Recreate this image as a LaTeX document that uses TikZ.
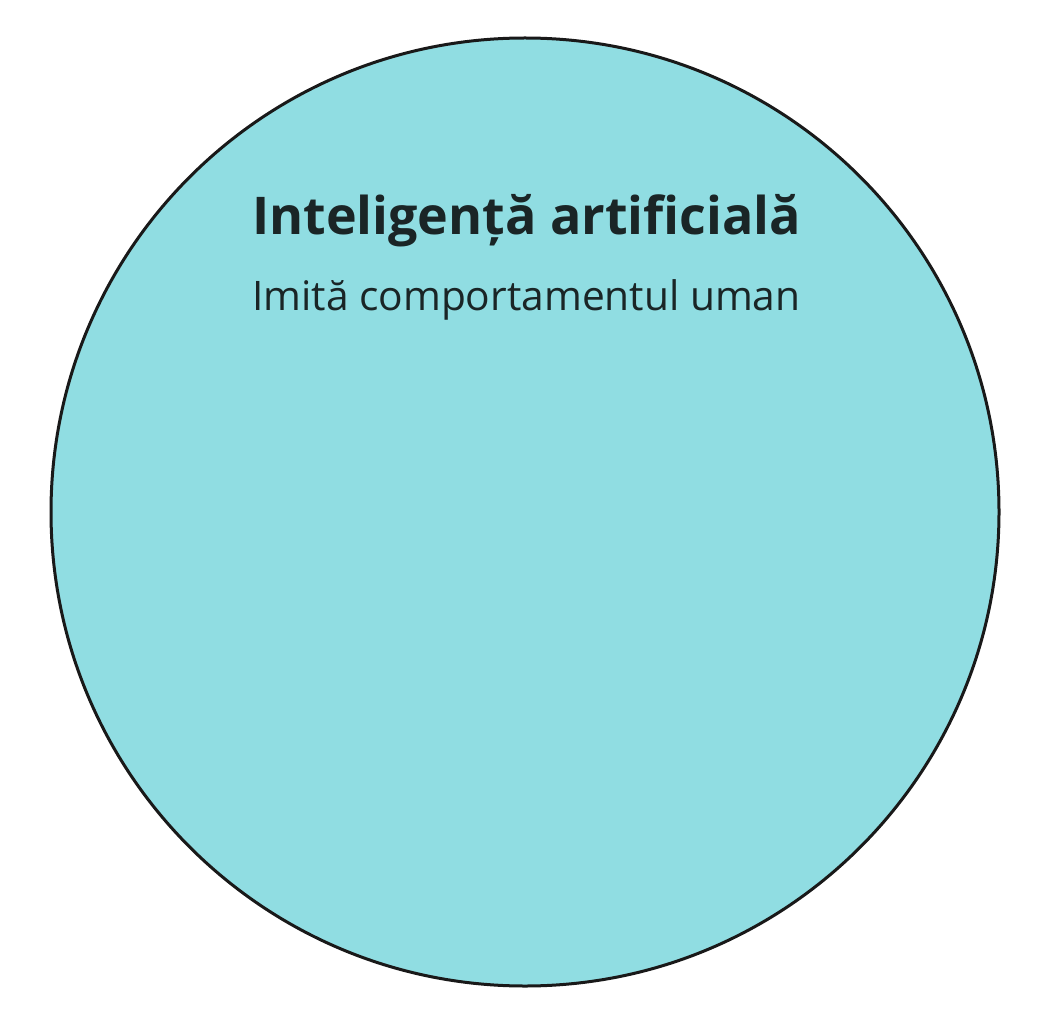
\documentclass[tikz,border=0pt]{standalone}
\usepackage{fontspec}
\setmainfont{Open Sans}
\definecolor{fillc}{HTML}{90DDE2}
\definecolor{txt}{HTML}{1A2526}
\begin{document}
\begin{tikzpicture}[x=1pt,y=-1pt,
  title/.style={anchor=base west,inner sep=0pt,text=txt,font=\fontsize{52}{62}\selectfont\bfseries},
  sub/.style={anchor=base west,inner sep=0pt,text=txt,font=\fontsize{40.7}{49}\selectfont}]
\useasboundingbox (0,0) rectangle (1052,1024);
\fill[white] (0,0) rectangle (1052,1024);
\node[circle,draw=black!90,line width=3pt,fill=fillc,minimum size=948pt,inner sep=0pt] (ai) at (525,512) {};
\node[title] (t) at (252,235) {Inteligență artificială};
\node[sub] (s) at (252,311) {Imită comportamentul uman};
\end{tikzpicture}
\end{document}
